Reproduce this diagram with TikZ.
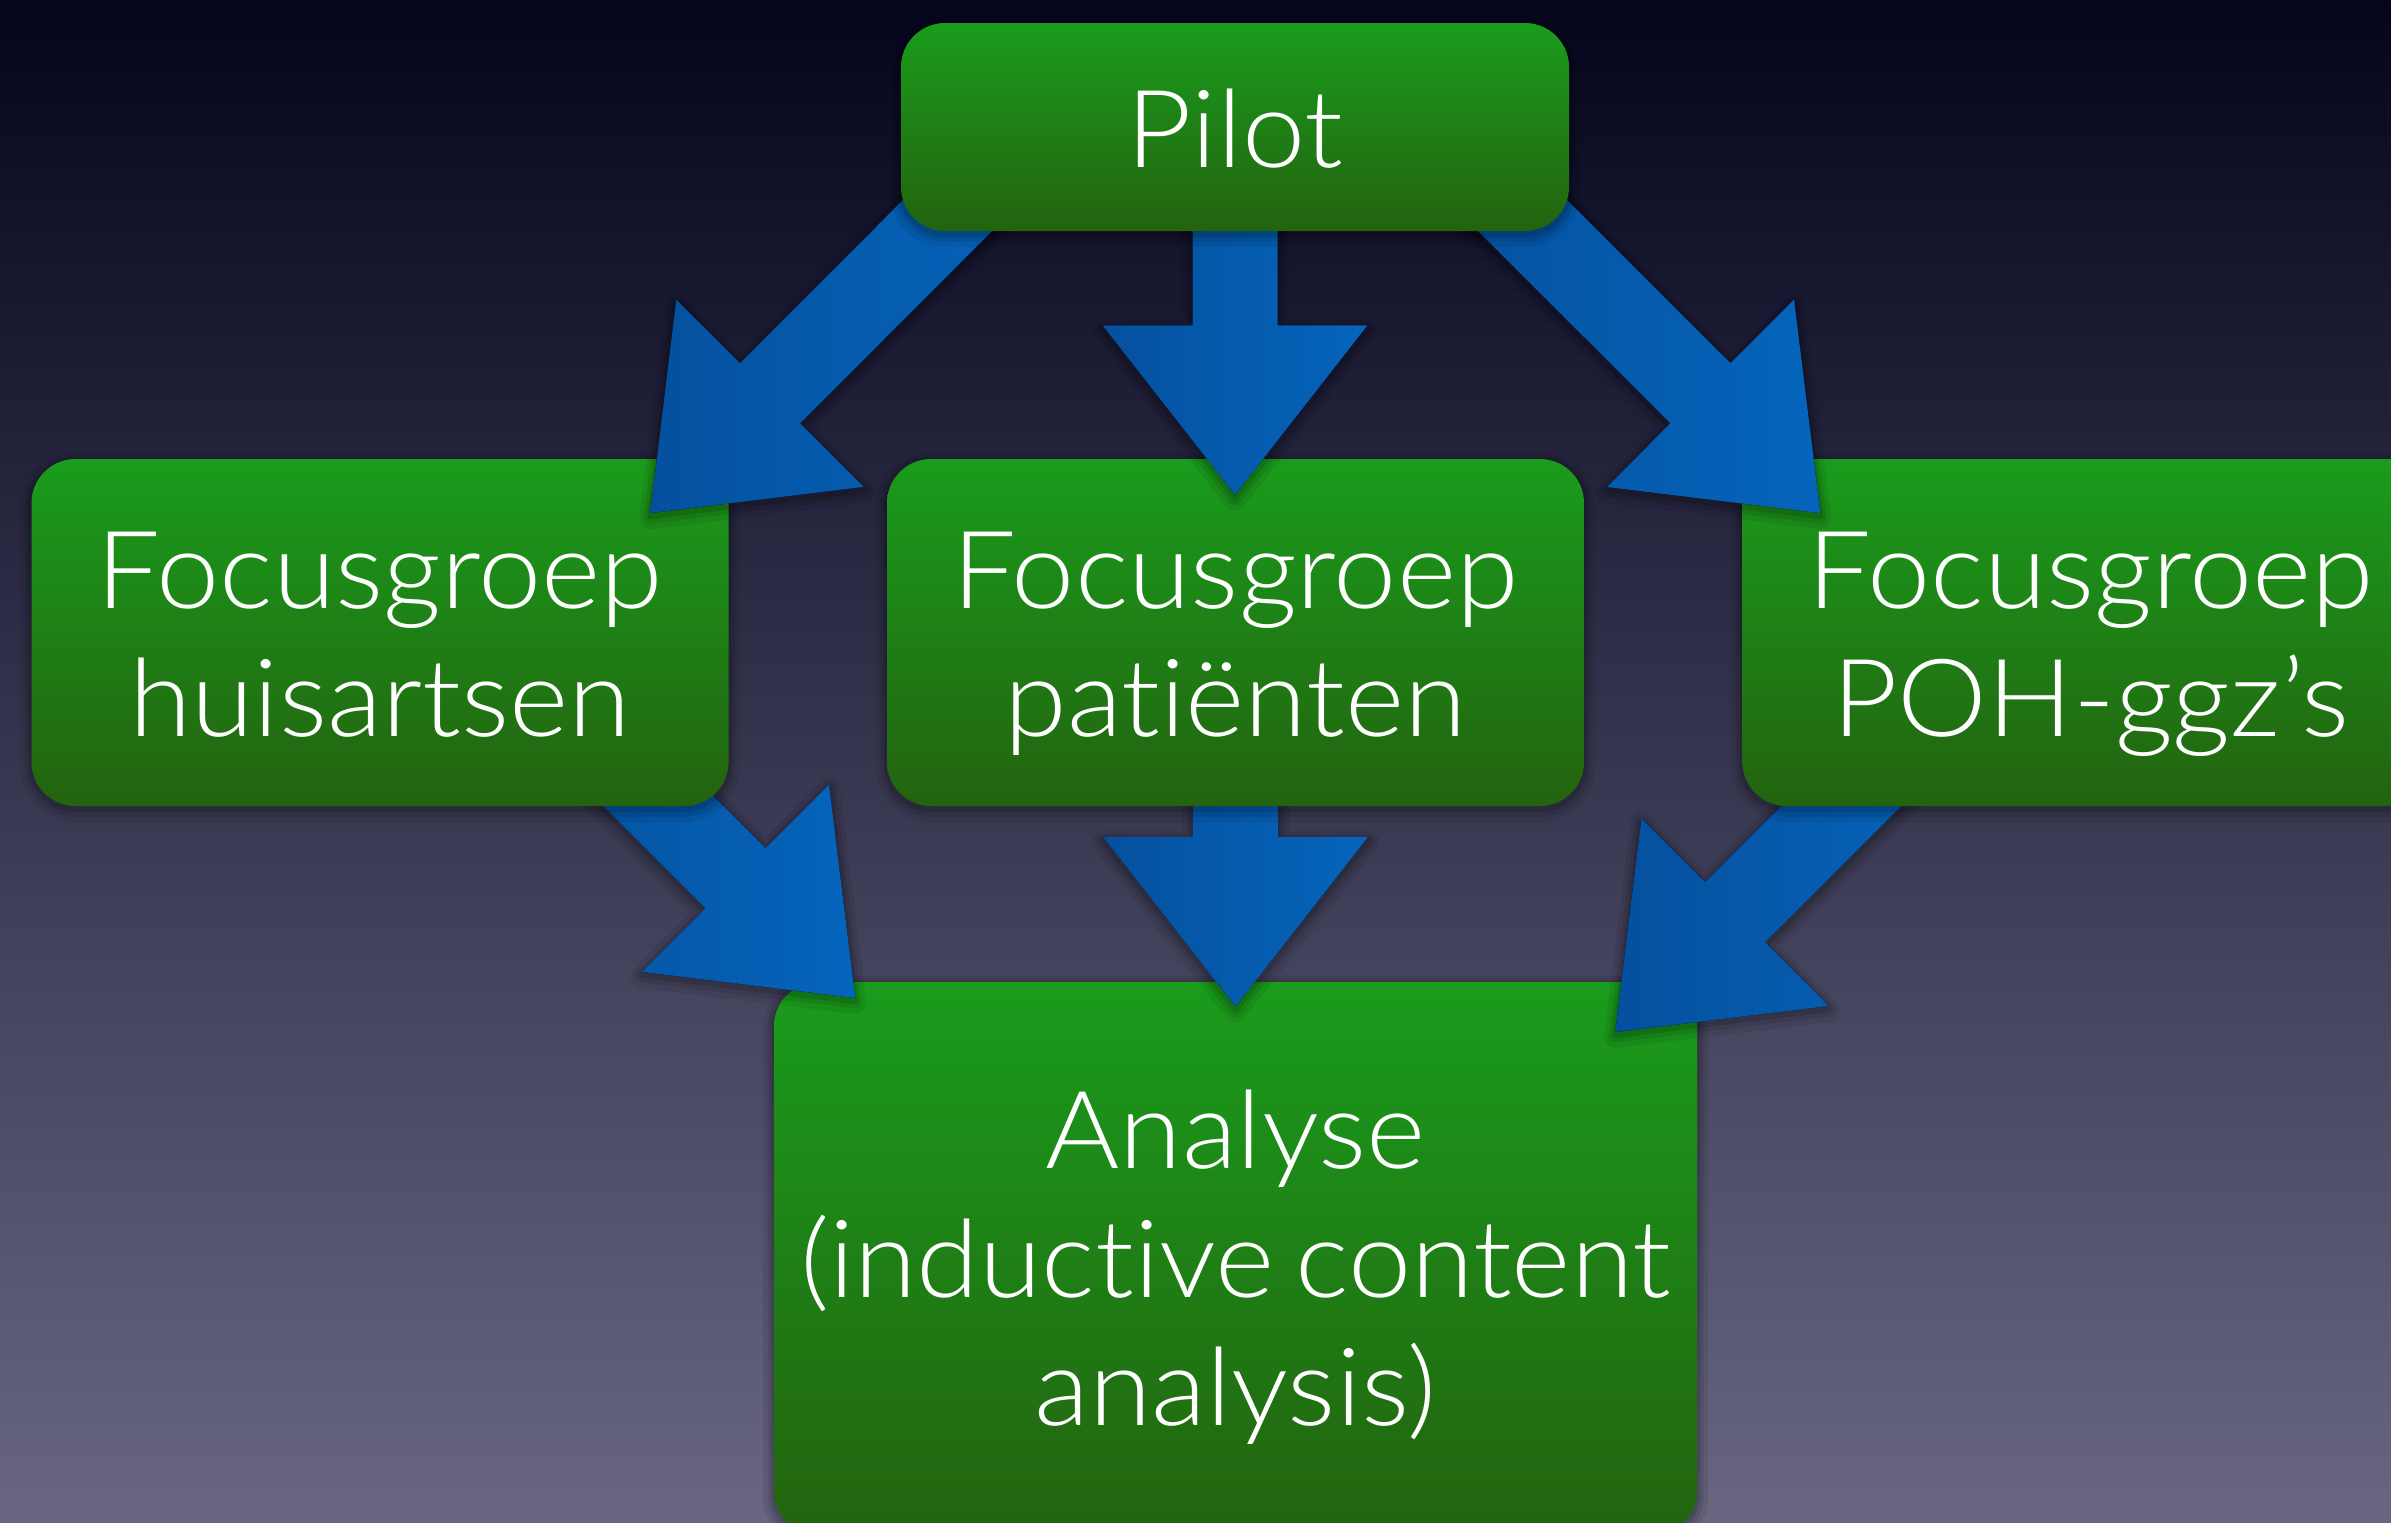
\documentclass[tikz,border=0pt]{standalone}
\usepackage{fontspec}
\setmainfont{Lato Light}[Ligatures={NoCommon}, FakeStretch=1.05, WordSpace=0.7]
\usetikzlibrary{calc}
\definecolor{bgtop}{RGB}{5,5,30}
\definecolor{bgmid}{RGB}{42,41,72}
\definecolor{bgbot}{RGB}{104,102,128}
\definecolor{gtop}{RGB}{26,156,28}
\definecolor{gbot}{RGB}{35,99,15}
\definecolor{arrL}{RGB}{5,80,158}
\definecolor{arrR}{RGB}{5,101,188}
\pgfdeclarelayer{bgl}
\pgfdeclarelayer{lowarr}
\pgfdeclarelayer{mid}
\pgfdeclarelayer{uparr}
\pgfsetlayers{bgl,lowarr,mid,uparr,main}
% block arrow from start coordinate #2 to tip coordinate #3
\newcommand\blockarrow[3][]{%
  \path ($(#3)!169.5pt!(#2)$) coordinate (ahb);
  \fill[blockfill,#1] ($(#2)!42.5pt!90:(#3)$) -- ($(ahb)!42.5pt!-90:(#2)$)
    -- ($(ahb)!132.5pt!-90:(#2)$) -- (#3) -- ($(ahb)!132.5pt!90:(#2)$)
    -- ($(ahb)!42.5pt!90:(#2)$) -- ($(#2)!42.5pt!-90:(#3)$) -- cycle;}
\begin{document}
\begin{tikzpicture}[x=1pt,y=-1pt,
  softshadow/.style={
    preaction={draw=black, draw opacity=0.07, line width=22pt, line join=round,
      transform canvas={yshift=-5pt}},
    preaction={draw=black, draw opacity=0.09, line width=13pt, line join=round,
      transform canvas={yshift=-4pt}},
    preaction={draw=black, draw opacity=0.12, line width=6pt, line join=round,
      transform canvas={yshift=-3pt}}},
  box/.style={rectangle, rounded corners=44pt, top color=gtop, bottom color=gbot,
    draw=none, inner sep=0pt, text=white, align=center, softshadow,
    font=\fontsize{108}{128.5}\selectfont},
  blockfill/.style={left color=arrL, right color=arrR, draw=none, softshadow}]
\useasboundingbox (0,0) rectangle (2391,1523);
\begin{pgfonlayer}{bgl}
  \fill[top color=bgtop, middle color=bgmid, bottom color=bgbot] (0,0) rectangle (2391,1523);
  \node[box, minimum width=923pt, minimum height=553pt] (ana) at (1235.5,1258.5)
    {\rule{0pt}{120pt}Analyse\\(inductive content\\analysis)\rule[-42.8pt]{0pt}{42.8pt}};
\end{pgfonlayer}
\begin{pgfonlayer}{mid}
  \node[box, minimum width=697pt, minimum height=347pt] (hu) at (380,632.5)
    {\rule{0pt}{120pt}Focusgroep\\huisartsen\rule[-40.2pt]{0pt}{40.2pt}};
  \node[box, minimum width=697pt, minimum height=347pt] (pat) at (1235.5,632.5)
    {\rule{0pt}{120pt}Focusgroep\\patiënten\rule[-40.2pt]{0pt}{40.2pt}};
  \node[box, minimum width=697pt, minimum height=347pt] (poh) at (2091,632.5)
    {\rule{0pt}{120pt}Focusgroep\\POH-ggz’s\rule[-40.2pt]{0pt}{40.2pt}};
\end{pgfonlayer}
\node[box, minimum width=668pt, minimum height=208pt] (pilot) at (1235,127)
  {\rule{0pt}{120pt}Pilot\rule[-40pt]{0pt}{40pt}};
% arrow end points
\coordinate (a1s) at ($(pilot.center)+(-222,23)$);
\coordinate (a1t) at ($(hu.north east)+(-78.5,54.3)$);
\coordinate (a2s) at ($(pilot.center)+(0,53)$);
\coordinate (a2t) at ($(pat.north)+(-0.5,36)$);
\coordinate (a3s) at ($(pilot.center)+(222,23)$);
\coordinate (a3t) at ($(poh.north west)+(78,54.3)$);
\coordinate (b1s) at ($(hu.center)+(177.2,67.5)$);
\coordinate (b1t) at ($(ana.north west)+(81.4,16.2)$);
\coordinate (b2s) at ($(pat.center)+(0,117.5)$);
\coordinate (b2t) at ($(ana.north)+(0,24.7)$);
\coordinate (b3s) at ($(poh.center)+(-143.7,67.5)$);
\coordinate (b3t) at ($(ana.north east)+(-82,50.3)$);
\begin{pgfonlayer}{uparr}
  \blockarrow{a1s}{a1t}
  \blockarrow{a2s}{a2t}
  \blockarrow{a3s}{a3t}
\end{pgfonlayer}
\begin{pgfonlayer}{lowarr}
  \blockarrow{b1s}{b1t}
  \blockarrow{b2s}{b2t}
  \blockarrow{b3s}{b3t}
\end{pgfonlayer}
\end{tikzpicture}
\end{document}
